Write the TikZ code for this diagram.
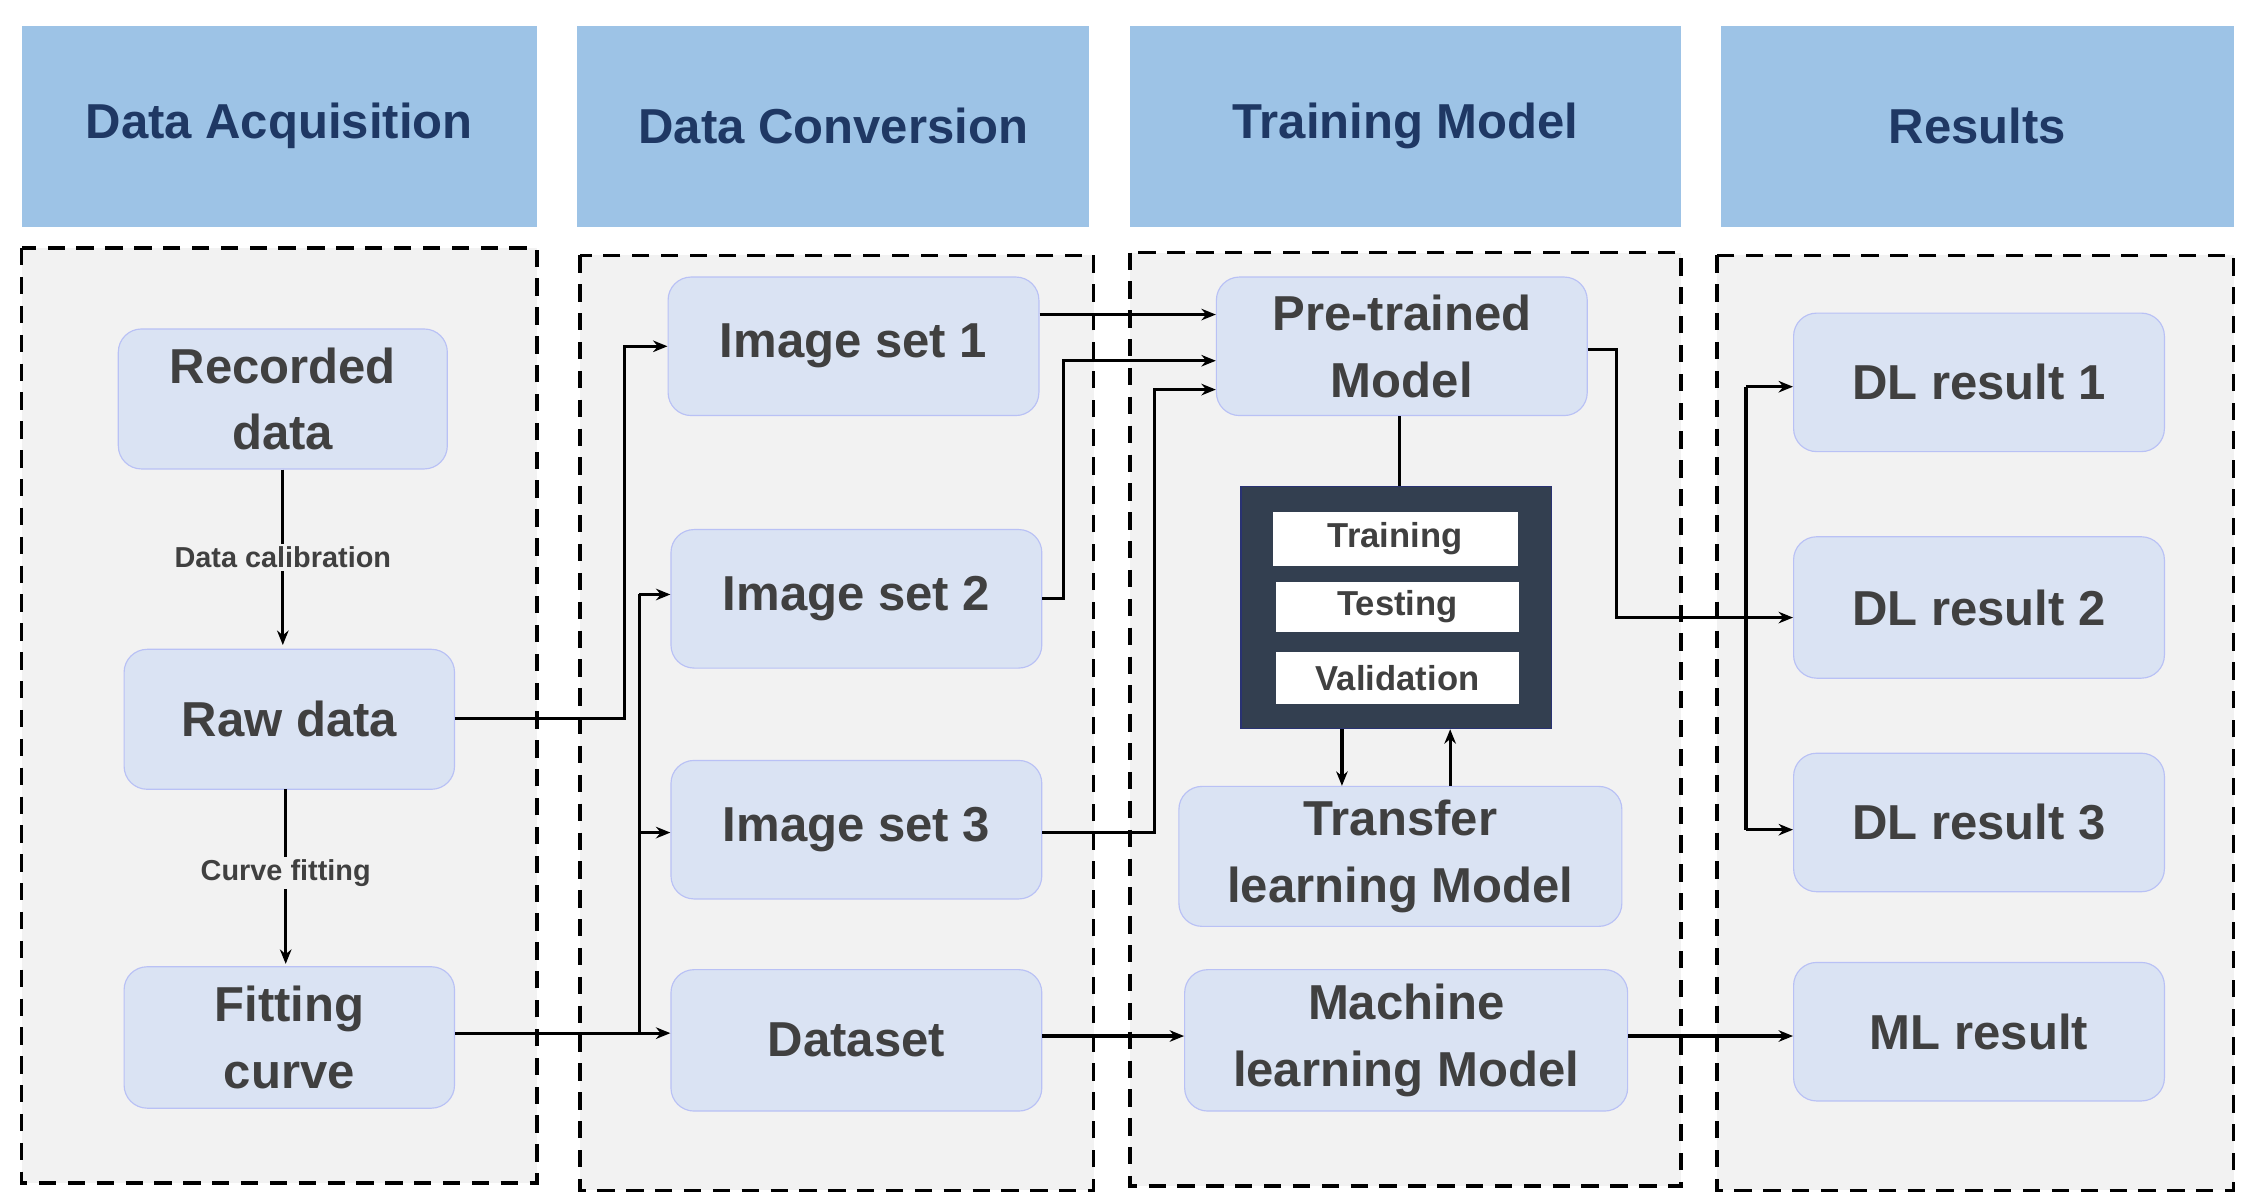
\documentclass[tikz,border=0pt]{standalone}
\usepackage{fontspec}
\setmainfont{Liberation Sans}
\usetikzlibrary{arrows.meta}
\definecolor{hdr}{HTML}{9DC3E6}
\definecolor{hdrtxt}{HTML}{1F3864}
\definecolor{nd}{HTML}{DAE3F3}
\definecolor{ndtxt}{HTML}{404040}
\definecolor{panel}{HTML}{F2F2F2}
\definecolor{dark}{HTML}{333F50}
\begin{document}
\begin{tikzpicture}[x=0.5pt,y=-0.5pt,
  hd/.style={fill=hdr,draw=none,text=hdrtxt,font=\bfseries\fontsize{17}{20}\selectfont,inner sep=0},
  pan/.style={fill=panel,draw=black,dashed,line width=1.2pt,dash pattern=on 6pt off 4pt},
  bx/.style={fill=nd,draw=nd!85!blue,rounded corners=8pt,text=ndtxt,font=\bfseries\fontsize{17}{23}\selectfont,align=center,inner sep=0},
  wb/.style={fill=white,text=ndtxt,font=\bfseries\fontsize{12}{14}\selectfont,inner sep=0},
  ln/.style={line width=1.1pt},
  ar/.style={ln,-{Stealth[length=5pt,width=4pt]}},
  lab/.style={fill=panel,font=\bfseries\fontsize{10}{12}\selectfont,text=ndtxt,inner sep=1pt}]
\useasboundingbox (0,0) rectangle (1560,833);
\fill[white] (0,0) rectangle (1560,833);
% headers
\foreach \a/\b/\t [count=\i] in {15/372/Data Acquisition,400/755/Data Conversion,783/1165/Training Model,1193/1548/Results}
  \node[hd,minimum width=(\b-\a)*0.5pt,minimum height=69.5pt] (h\i) at ({(\a+\b)/2},87.5) {\t};
% panels
\draw[pan] (15,172) rectangle (372,820);
\draw[pan] (402,177) rectangle (758,825);
\draw[pan] (783,175) rectangle (1165,822);
\draw[pan] (1190,177) rectangle (1548,825);
% nodes
\newcommand{\bxn}[6]{\node[bx,minimum width={(#3-#2)*0.5pt},minimum height={(#5-#4)*0.5pt}] (#1) at ({(#2+#3)/2},{(#4+#5)/2}) {#6};}
\bxn{rec}{82}{310}{228}{325}{Recorded\\data}
\bxn{raw}{86}{315}{450}{547}{Raw data}
\bxn{fit}{86}{315}{670}{768}{Fitting\\curve}
\bxn{is1}{463}{720}{192}{288}{Image set 1}
\bxn{is2}{465}{722}{367}{463}{Image set 2}
\bxn{is3}{465}{722}{527}{623}{Image set 3}
\bxn{ds}{465}{722}{672}{770}{Dataset}
\bxn{pre}{843}{1100}{192}{288}{Pre-trained\\Model}
\bxn{tl}{817}{1124}{545}{642}{Transfer\\learning Model}
\bxn{ml}{821}{1128}{672}{770}{Machine\\learning Model}
\bxn{dl1}{1243}{1500}{217}{313}{DL result 1}
\bxn{dl2}{1243}{1500}{372}{470}{DL result 2}
\bxn{dl3}{1243}{1500}{522}{618}{DL result 3}
\bxn{mlr}{1243}{1500}{667}{763}{ML result}
% dark box
\node[fill=dark,draw=dark!80!blue,minimum width=107.5pt,minimum height=84pt,inner sep=0] (dk) at (967.5,421) {};
\node[wb,minimum width=85pt,minimum height=18.5pt] (tr) at (967,373.5) {Training};
\node[wb,minimum width=84.5pt,minimum height=17.5pt] (te) at (968.5,420.5) {Testing};
\node[wb,minimum width=84.5pt,minimum height=18pt] (va) at (968.5,470) {Validation};
% connectors
\draw[ar] (rec.south -| 196,0) -- node[lab]{Data calibration} (196,447);
\draw[ar] (198,547) -- node[lab,pos=0.48]{Curve fitting} (198,668);
\draw[ar] (raw.east |- 0,498) -- (433,498) -- (433,240) -- (is1.west |- 0,240);
\draw[ar] (fit.east |- 0,716) -- (ds.west |- 0,716);
\draw[ln] (443,716) -- (443,412);
\draw[ar] (443,412) -- (is2.west |- 0,412);
\draw[ar] (443,577) -- (is3.west |- 0,577);
\draw[ar] (is1.east |- 0,218) -- (pre.west |- 0,218);
\draw[ar] (is2.east |- 0,415) -- (737,415) -- (737,250) -- (pre.west |- 0,250);
\draw[ar] (is3.east |- 0,577) -- (800,577) -- (800,270) -- (pre.west |- 0,270);
\draw[ar] (pre.east |- 0,242) -- (1120,242) -- (1120,428) -- (dl2.west |- 0,428);
\draw[ln] (1210,268) -- (1210,575);
\draw[ar] (1210,268) -- (dl1.west |- 0,268);
\draw[ar] (1210,575) -- (dl3.west |- 0,575);
\draw[ln] (pre.south -| 970,0) -- (dk.north -| 970,0);
\draw[ar] (dk.south -| 930,0) -- (tl.north -| 930,0);
\draw[ar] (tl.north -| 1005,0) -- (dk.south -| 1005,0);
\draw[ar] (ds.east |- 0,718) -- (ml.west |- 0,718);
\draw[ar] (ml.east |- 0,718) -- (mlr.west |- 0,718);
\end{tikzpicture}
\end{document}
